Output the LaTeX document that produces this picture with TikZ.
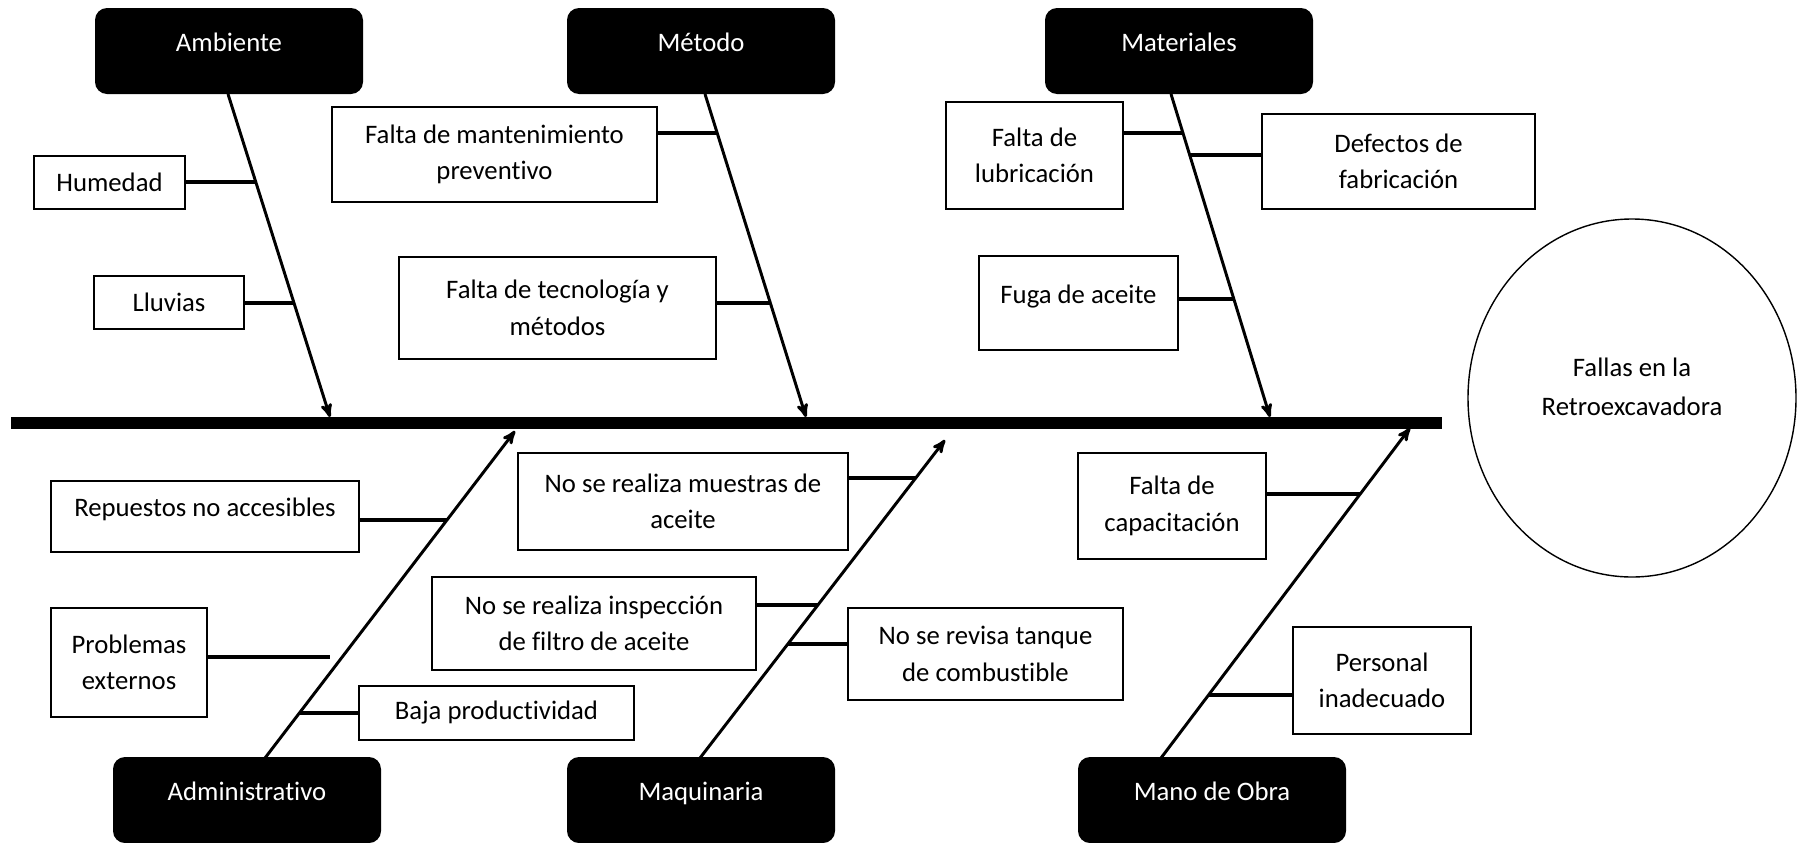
\documentclass[tikz,border=0pt]{standalone}
\usepackage{fontspec}
\setmainfont{Carlito}[Ligatures={NoCommon}]
\usetikzlibrary{shapes}
\usetikzlibrary{arrows}
\newcommand{\px}{0.025cm}
\tikzset{
	txt/.style = {font=\fontsize{19}{26}\selectfont},
	causa/.style = {txt, draw=black, line width=1.4pt, fill=white, align=center,
		inner sep=0pt},% caja de causa
	causa_alta/.style = {causa, text height=1.5ex, text depth=1.5ex},% causa, texto arriba
	categ/.style = {txt, fill=black, text=white, rounded corners=0.3cm,
		minimum width=268*\px, minimum height=86*\px,
		text height=1.5ex, text depth=1.5ex},% categoria, caja negra
	boxsize/.style 2 args = {minimum width=#1*\px, minimum height=#2*\px},
	bone/.style = {line width=2.1pt},
	branch/.style = {line width=2.6pt},
	spine/.style = {line width=8pt}
}
\begin{document}
\begin{tikzpicture}[x=\px, y=-\px, >=stealth']
	\useasboundingbox (0,0) rectangle (1798,843);
	% categorias
	\node [categ] (amb) at (229,51) {Ambiente};
	\node [categ] (met) at (701,51) {Método};
	\node [categ] (mat) at (1179,51) {Materiales};
	\node [categ] (adm) at (247,800) {Administrativo};
	\node [categ] (maq) at (701,800) {Maquinaria};
	\node [categ] (mob) at (1212,800) {Mano de Obra};
	% efecto
	\node [draw, ellipse, line width=1pt, boxsize={328}{358}] (efecto) at (1632,398) {};
	\node [txt, align=center, font=\fontsize{19}{28}\selectfont] (efectoTxt) at (1632,387)
		{Fallas en la\\Retroexcavadora};
	% causas
	\node [causa, boxsize={151}{53}] (hum) at (109.5,182.5) {Humedad};
	\node [causa, boxsize={150}{53}] (llu) at (169,302.5) {Lluvias};
	\node [causa, boxsize={325}{95}] (fman) at (494.5,154.5) {Falta de mantenimiento\\preventivo};
	\node [causa, boxsize={317}{102}] (ftec) at (557.5,308) {Falta de tecnología y\\métodos};
	\node [causa, boxsize={177}{107}] (lub) at (1034.5,155.5) {Falta de\\lubricación};
	\node [causa, boxsize={273}{95}] (def) at (1398.5,161.5) {Defectos de\\fabricación};
	\node [causa_alta, boxsize={199}{94}] (fuga) at (1078.5,303) {Fuga de aceite};
	\node [causa_alta, boxsize={308}{71}] (rep) at (205,516.5) {Repuestos no accesibles};
	\node [causa, boxsize={156}{109}] (prob) at (129,662.5) {Problemas\\externos};
	\node [causa, boxsize={275}{54}] (baja) at (496.5,713) {Baja productividad};
	\node [causa, boxsize={330}{97}] (mue) at (683,501.5) {No se realiza muestras de\\aceite};
	\node [causa, boxsize={324}{93}] (insp) at (594,623.5) {No se realiza inspección\\de filtro de aceite};
	\node [causa, boxsize={275}{92}] (tanq) at (985.5,654) {No se revisa tanque\\de combustible};
	\node [causa, boxsize={188}{106}] (cap) at (1172,506) {Falta de\\capacitación};
	\node [causa, boxsize={178}{107}] (pers) at (1382,680.5) {Personal\\inadecuado};
	% espina y huesos
	\coordinate (espI) at (11,423);
	\coordinate (espD) at (1442,423);
	\coordinate (ambS) at (228,94);   \coordinate (ambT) at (330,417);
	\coordinate (metS) at (705,94);   \coordinate (metT) at (806,417);
	\coordinate (matS) at (1171,94);  \coordinate (matT) at (1270,417);
	\coordinate (admS) at (265,758);  \coordinate (admT) at (515,431);
	\coordinate (maqS) at (700,758);  \coordinate (maqT) at (945,440);
	\coordinate (mobS) at (1161,758); \coordinate (mobT) at (1410,428);
	\path (ambS) -- (ambT) coordinate[pos=0.2724] (humB) coordinate[pos=0.6471] (lluB);
	\path (metS) -- (metT) coordinate[pos=0.1207] (fmanB) coordinate[pos=0.6471] (ftecB);
	\path (matS) -- (matT) coordinate[pos=0.1207] (lubB) coordinate[pos=0.1889] (defB)
		coordinate[pos=0.6347] (fugaB);
	\path (admS) -- (admT) coordinate[pos=0.7278] (repB) coordinate[pos=0.1376] (bajaB);
	\coordinate (probB) at (330,657);
	\path (maqS) -- (maqT) coordinate[pos=0.8805] (mueB) coordinate[pos=0.4811] (inspB)
		coordinate[pos=0.3585] (tanqB);
	\path (mobS) -- (mobT) coordinate[pos=0.8] (capB) coordinate[pos=0.1909] (persB);
	\draw [spine] (espI) -- (espD);
	\draw [bone,->] (ambS) -- (ambT);
	\draw [bone,->] (metS) -- (metT);
	\draw [bone,->] (matS) -- (matT);
	\draw [bone,->] (admS) -- (admT);
	\draw [bone,->] (maqS) -- (maqT);
	\draw [bone,->] (mobS) -- (mobT);
	% ramas
	\draw [branch] (hum.east |- humB) -- (humB);
	\draw [branch] (llu.east |- lluB) -- (lluB);
	\draw [branch] (fman.east |- fmanB) -- (fmanB);
	\draw [branch] (ftec.east |- ftecB) -- (ftecB);
	\draw [branch] (lub.east |- lubB) -- (lubB);
	\draw [branch] (def.west |- defB) -- (defB);
	\draw [branch] (fuga.east |- fugaB) -- (fugaB);
	\draw [branch] (rep.east |- repB) -- (repB);
	\draw [branch] (prob.east |- probB) -- (probB);
	\draw [branch] (baja.west |- bajaB) -- (bajaB);
	\draw [branch] (mue.east |- mueB) -- (mueB);
	\draw [branch] (insp.east |- inspB) -- (inspB);
	\draw [branch] (tanq.west |- tanqB) -- (tanqB);
	\draw [branch] (cap.east |- capB) -- (capB);
	\draw [branch] (pers.west |- persB) -- (persB);
\end{tikzpicture}
\end{document}
